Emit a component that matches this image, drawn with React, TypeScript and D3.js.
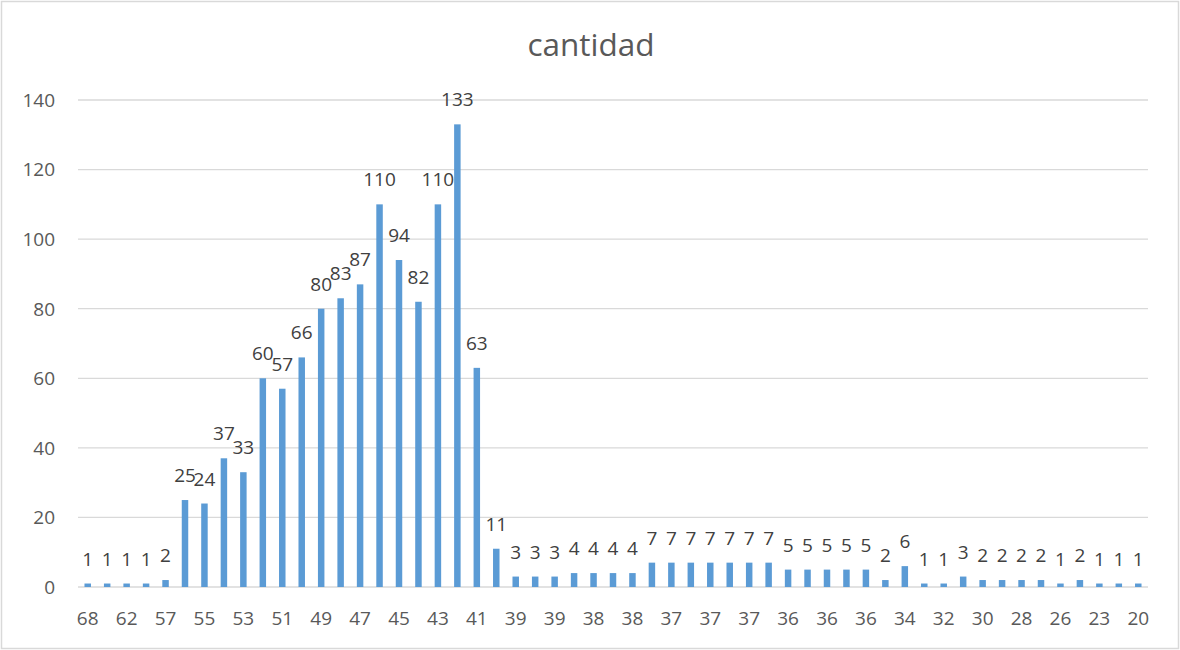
import React from "react";
import * as d3 from "d3";

const categories: string[] = [
  "68", "65", "62", "58", "57", "56", "55", "54", "53", "52",
  "51", "50", "49", "48", "47", "46", "45", "44", "43", "42",
  "41", "40", "39", "39", "39", "38", "38", "38", "38", "37",
  "37", "37", "37", "37", "37", "37", "36", "36", "36", "36",
  "36", "35", "34", "33", "32", "31", "30", "29", "28", "27",
  "26", "25", "23", "21", "20",
];
const values: number[] = [
  1, 1, 1, 1, 2, 25, 24, 37, 33, 60,
  57, 66, 80, 83, 87, 110, 94, 82, 110, 133,
  63, 11, 3, 3, 3, 4, 4, 4, 4, 7,
  7, 7, 7, 7, 7, 7, 5, 5, 5, 5,
  5, 2, 6, 1, 1, 3, 2, 2, 2, 2,
  1, 2, 1, 1, 1,
];
const yTicks: number[] = [0, 20, 40, 60, 80, 100, 120, 140];
const title = "cantidad";

const W = 1180;
const H = 650;
const FONT = "'Open Sans', Lato, sans-serif";

export default function App() {
  const left = 78, right = 1148, top = 100, bottom = 587;
  const x = d3
    .scaleBand<number>()
    .domain(values.map((_, i) => i))
    .range([left, right])
    .paddingInner(2 / 3)
    .paddingOuter(1 / 3);
  const y = d3.scaleLinear().domain([0, 140]).range([bottom, top]);

  return (
    <svg
      width={W}
      height={H}
      style={{ position: "absolute", left: 0, top: 0, background: "#fff" }}
      fontFamily={FONT}
    >
      <rect x={1.5} y={1.5} width={W - 3} height={H - 3} fill="#fff" stroke="#d9d9d9" strokeWidth={1.5} />
      <text x={591} y={56} textAnchor="middle" fontSize={31.5} fill="#595959">
        {title}
      </text>
      {yTicks.map((t) => (
        <g key={t}>
          <line x1={left} x2={right} y1={y(t)} y2={y(t)} stroke="#d9d9d9" strokeWidth={1.3} />
          <text x={55} y={y(t)} dy="0.36em" textAnchor="end" fontSize={19} fill="#595959">
            {t}
          </text>
        </g>
      ))}
      {values.map((v, i) => (
        <rect
          key={i}
          x={x(i)}
          y={y(v)}
          width={x.bandwidth()}
          height={bottom - y(v)}
          fill="#5b9bd5"
        />
      ))}
      {values.map((v, i) => (
        <text
          key={"l" + i}
          x={(x(i) as number) + x.bandwidth() / 2}
          y={y(v) - 18}
          textAnchor="middle"
          fontSize={19}
          fill="#404040"
        >
          {v}
        </text>
      ))}
      {categories.map((c, i) =>
        i % 2 === 0 ? (
          <text
            key={"c" + i}
            x={(x(i) as number) + x.bandwidth() / 2}
            y={618}
            dy="0.36em"
            textAnchor="middle"
            fontSize={19}
            fill="#595959"
          >
            {c}
          </text>
        ) : null
      )}
    </svg>
  );
}
